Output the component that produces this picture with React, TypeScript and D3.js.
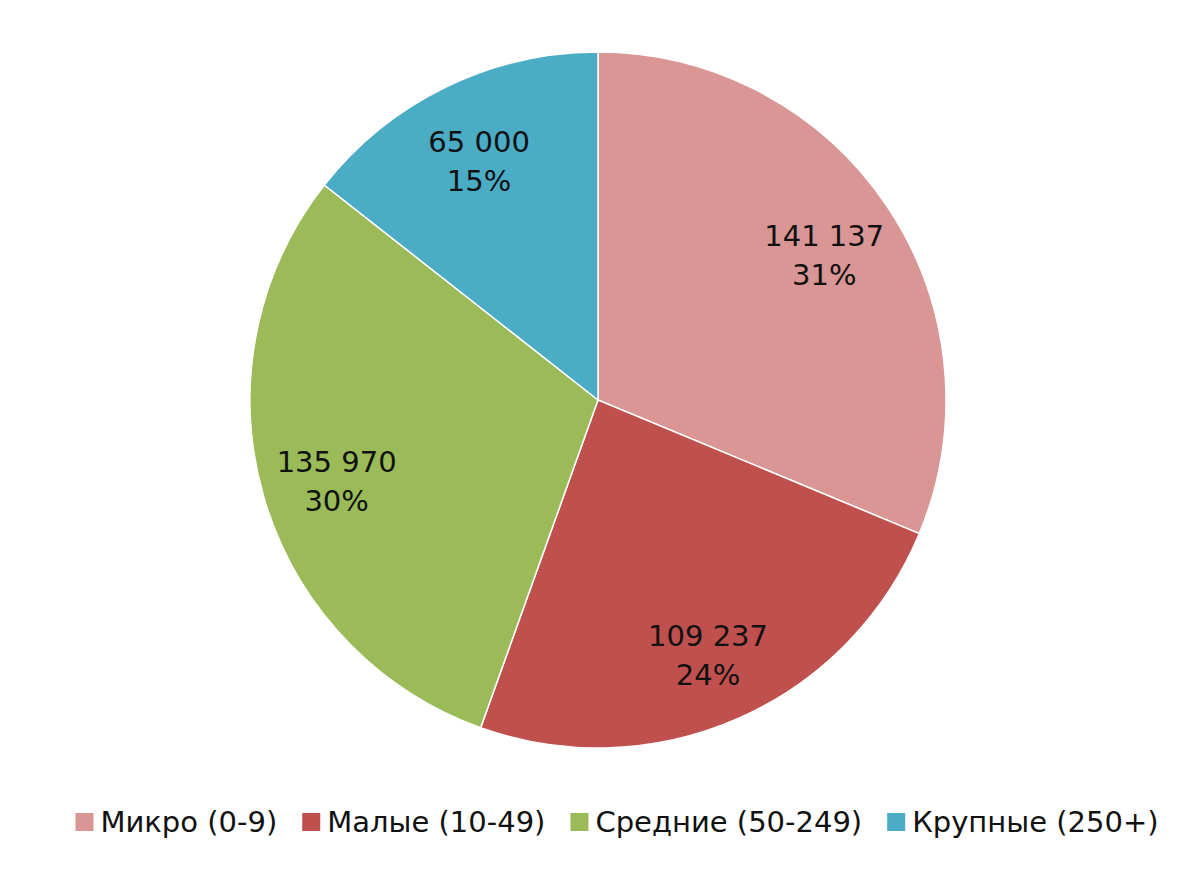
import { useRef, useEffect } from "react";
import * as d3 from "d3";

const categories = ["Микро (0-9)", "Малые (10-49)", "Средние (50-249)", "Крупные (250+)"];
const values = [141137, 109237, 135970, 65000];
const valueLabels = ["141 137", "109 237", "135 970", "65 000"];
const percentLabels = ["31%", "24%", "30%", "15%"];
const colors = ["#D99694", "#C0504D", "#9BBB59", "#4BACC6"];

const width = 1200;
const height = 884;

const App = () => {
  const svgRef = useRef<SVGSVGElement>(null);

  useEffect(() => {
    const svg = d3.select(svgRef.current);
    svg.selectAll("*").remove();

    const cx = 598;
    const cy = 400;
    const radius = 348;
    const fontFamily = "'DejaVu Sans', Verdana, sans-serif";

    const data = categories.map((c, i) => ({ name: c, value: values[i], i }));

    const pie = d3
      .pie<any>()
      .value((d) => d.value)
      .sort(null);

    const arc = d3.arc<any>().innerRadius(0).outerRadius(radius);
    const labelArc = d3.arc<any>().innerRadius(272).outerRadius(272);

    const g = svg.append("g").attr("transform", `translate(${cx},${cy})`);
    const arcs = pie(data);

    g.selectAll("path.slice")
      .data(arcs)
      .enter()
      .append("path")
      .attr("class", "slice")
      .attr("d", arc)
      .attr("fill", (d) => colors[d.data.i])
      .attr("stroke", "#ffffff")
      .attr("stroke-width", 1.5);

    // Data labels
    const labels = g
      .selectAll("text.label")
      .data(arcs)
      .enter()
      .append("text")
      .attr("class", "label")
      .attr("transform", (d) => `translate(${labelArc.centroid(d)})`)
      .attr("text-anchor", "middle")
      .style("font-family", fontFamily)
      .style("font-size", "29px")
      .style("fill", "#111111");

    labels
      .append("tspan")
      .attr("x", 0)
      .attr("y", -3)
      .text((d) => valueLabels[d.data.i]);
    labels
      .append("tspan")
      .attr("x", 0)
      .attr("y", 36)
      .text((d) => percentLabels[d.data.i]);

    // Legend
    const legendY = 822;
    const swatch = 18;
    const swatchGap = 7;
    const itemGap = 25;
    const legend = svg.append("g");
    const items = categories.map((c, i) => {
      const item = legend.append("g");
      item
        .append("rect")
        .attr("x", 0)
        .attr("y", -swatch / 2)
        .attr("width", swatch)
        .attr("height", swatch)
        .attr("fill", colors[i]);
      const t = item
        .append("text")
        .attr("x", swatch + swatchGap)
        .attr("y", 10)
        .style("font-family", fontFamily)
        .style("font-size", "29px")
        .style("fill", "#111111")
        .text(c);
      const w = (t.node() as SVGTextElement).getComputedTextLength();
      return { item, w: swatch + swatchGap + w };
    });
    const total = d3.sum(items, (d) => d.w) + itemGap * (items.length - 1);
    let x = 617 - total / 2;
    items.forEach((d) => {
      d.item.attr("transform", `translate(${x},${legendY})`);
      x += d.w + itemGap;
    });
  }, []);

  return (
    <svg
      ref={svgRef}
      width={width}
      height={height}
      style={{ position: "absolute", left: 0, top: 0, background: "#ffffff" }}
    ></svg>
  );
};

export default App;
